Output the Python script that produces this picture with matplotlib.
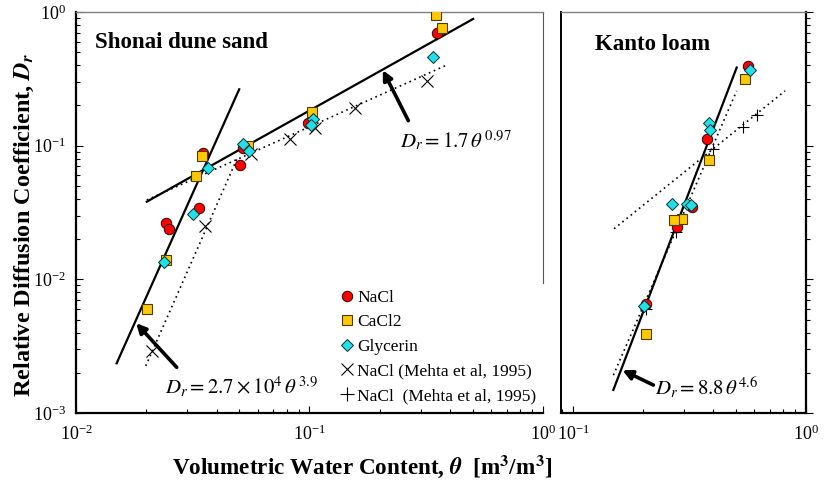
import matplotlib
matplotlib.use("Agg")
import matplotlib.pyplot as plt
import numpy as np

plt.rcParams['font.family'] = ['Liberation Serif', 'DejaVu Serif']
plt.rcParams['mathtext.fontset'] = 'stix'

# Data - Shonai dune sand (theta, Dr)
sand_nacl_t = [0.35, 0.099, 0.0517, 0.0504, 0.0351, 0.0337, 0.0244, 0.0249]
sand_nacl_d = [0.70, 0.148, 0.0955, 0.0716, 0.088, 0.034, 0.0263, 0.024]
sand_cacl_t = [0.348, 0.371, 0.102, 0.0543, 0.0348, 0.0326, 0.0244, 0.0202]
sand_cacl_d = [0.955, 0.759, 0.18, 0.099, 0.083, 0.0589, 0.01396, 0.00602]
sand_gly_t = [0.338, 0.1033, 0.1016, 0.0517, 0.0552, 0.0366, 0.0316, 0.0239]
sand_gly_d = [0.46, 0.157, 0.143, 0.103, 0.0917, 0.068, 0.0307, 0.0135]
sand_mehta_t = [0.317, 0.157, 0.106, 0.0826, 0.0562, 0.0358, 0.0212]
sand_mehta_d = [0.307, 0.19, 0.135, 0.112, 0.0865, 0.0252, 0.0029]

# Data - Kanto loam
loam_nacl_t = [0.561, 0.376, 0.323, 0.279, 0.205]
loam_nacl_d = [0.394, 0.112, 0.0346, 0.0248, 0.0065]
loam_cacl_t = [0.549, 0.383, 0.294, 0.27, 0.2065]
loam_cacl_d = [0.313, 0.0785, 0.0285, 0.0279, 0.0039]
loam_gly_t = [0.576, 0.385, 0.387, 0.265, 0.308, 0.321, 0.202]
loam_gly_d = [0.365, 0.147, 0.131, 0.0369, 0.0369, 0.036, 0.00637]
loam_mehta_t = [0.613, 0.534, 0.398, 0.277, 0.2065]
loam_mehta_d = [0.17, 0.139, 0.094, 0.0226, 0.006]

# Fitted lines as end points (theta0, Dr0, theta1, Dr1)
sand_fit_solid = [(0.0201, 0.0381, 0.502, 0.887), (0.01493, 0.002355, 0.05, 0.264)]
sand_fit_dotted = [(0.0201, 0.0392, 0.387, 0.401), (0.0199, 0.00225, 0.0489, 0.0795)]
loam_fit_solid = [(0.149, 0.00149, 0.504, 0.384)]
loam_fit_dotted = [(0.15, 0.0239, 0.813, 0.257), (0.149, 0.00192, 0.504, 0.257)]

red = '#FF0000'
gold = '#FFC800'
cyan = '#22E0E8'

fig = plt.figure(figsize=(8.25, 4.83), dpi=100)
ax1 = fig.add_axes([0.0921, 0.1449, 0.5661, 0.8303])
ax2 = fig.add_axes([0.680, 0.1449, 0.297, 0.8303])


def draw(ax, nt, nd, ct, cd, gt, gd, mt, md, mmark, solid, dotted):
    for t0, d0, t1, d1 in dotted:
        ax.plot([t0, t1], [d0, d1], color='k', lw=1.2, ls=(0, (1, 2.2)), zorder=2)
    for t0, d0, t1, d1 in solid:
        ax.plot([t0, t1], [d0, d1], color='k', lw=1.6, zorder=3)
    ax.plot(mt, md, ls='none', marker=mmark, ms=9, mew=0.8, color='k', zorder=4)
    h1, = ax.plot(nt, nd, ls='none', marker='o', ms=7.5, mfc=red, mec='#330000', mew=0.7, zorder=5)
    h2, = ax.plot(ct, cd, ls='none', marker='s', ms=7.2, mfc=gold, mec='#4a3c00', mew=0.8, zorder=6)
    h3, = ax.plot(gt, gd, ls='none', marker='D', ms=6.2, mfc=cyan, mec='#003333', mew=0.7, zorder=7)
    return h1, h2, h3


h1, h2, h3 = draw(ax1, sand_nacl_t, sand_nacl_d, sand_cacl_t, sand_cacl_d,
                  sand_gly_t, sand_gly_d, sand_mehta_t, sand_mehta_d, 'x',
                  sand_fit_solid, sand_fit_dotted)
draw(ax2, loam_nacl_t, loam_nacl_d, loam_cacl_t, loam_cacl_d,
     loam_gly_t, loam_gly_d, loam_mehta_t, loam_mehta_d, '+',
     loam_fit_solid, loam_fit_dotted)

for ax in (ax1, ax2):
    ax.set_xscale('log')
    ax.set_yscale('log')
    ax.set_ylim(1e-3, 1)
    ax.spines['top'].set_color('#808080')
    ax.spines['top'].set_linewidth(1.0)
    ax.spines['bottom'].set_linewidth(1.6)
    ax.tick_params(which='both', direction='in', labelsize=13, width=0.8)
    ax.tick_params(which='major', length=5)
    ax.tick_params(which='minor', length=3)


def lbl(p):
    return r'$\mathregular{10^{%d}}$' % p


ax1.set_xlim(1e-2, 1)
ax1.set_xticks([1e-2, 1e-1, 1])
ax1.set_xticklabels([lbl(-2), lbl(-1), lbl(0)])
ax1.set_yticks([1e-3, 1e-2, 1e-1, 1])
ax1.set_yticklabels([lbl(-3), lbl(-2), lbl(-1), lbl(0)])
ax1.spines['left'].set_linewidth(1.6)
ax1.spines['right'].set_color('#555555')
ax1.spines['right'].set_bounds(0.0094, 1)
ax1.tick_params(axis='y', which='both', right=False)

ax2.set_xlim(0.0888, 1)
ax2.set_xticks([1e-1, 1])
ax2.set_xticklabels([lbl(-1), lbl(0)])
ax2.yaxis.tick_right()
ax2.tick_params(axis='y', which='both', direction='out', labelright=False)
ax2.spines['left'].set_linewidth(1.4)
ax2.spines['right'].set_linewidth(1.6)
for ax in (ax1, ax2):
    ax.tick_params(axis='x', which='both', pad=8)
ax1.tick_params(axis='y', pad=7)

# Panel titles
ax1.text(0.041, 0.923, 'Shonai dune sand', transform=ax1.transAxes, fontsize=16.5,
         fontweight='bold', va='center', ha='left')
ax2.text(0.139, 0.92, 'Kanto loam', transform=ax2.transAxes, fontsize=16.5,
         fontweight='bold', va='center', ha='left')

# Annotations
arrow = dict(arrowstyle='-|>', lw=2.6, color='k', mutation_scale=14, shrinkA=0, shrinkB=0)
ax1.annotate('', xy=(0.206, 1.7 * 0.206 ** 0.97), xycoords='data',
             xytext=(0.7116, 0.729), textcoords='axes fraction', arrowprops=arrow)
ax1.text(0.694, 0.677, r'$D_r = 1.7\,\theta^{\,0.97}$', transform=ax1.transAxes,
         fontsize=15, va='center', ha='left')
ax1.annotate('', xy=(0.0181, 0.0047), xycoords='data',
             xytext=(0.2156, 0.114), textcoords='axes fraction', arrowprops=arrow)
ax1.text(0.1906, 0.0656, r'$D_r = 2.7\times10^{4}\,\theta^{\,3.9}$', transform=ax1.transAxes,
         fontsize=15, va='center', ha='left')
ax2.annotate('', xy=(0.163, 8.8 * 0.163 ** 4.6), xycoords='data',
             xytext=(0.377, 0.0697), textcoords='axes fraction', arrowprops=arrow)
ax2.text(0.384, 0.062, r'$D_r = 8.8\,\theta^{4.6}$', transform=ax2.transAxes,
         fontsize=15, va='center', ha='left')

# Legend
hx, = ax1.plot([], [], ls='none', marker='x', ms=9, mew=0.8, color='k')
hp, = ax1.plot([], [], ls='none', marker='+', ms=10, mew=0.8, color='k')
ax1.legend([h1, h2, h3, hx, hp],
           ['NaCl', 'CaCl2', 'Glycerin', 'NaCl (Mehta et al, 1995)', 'NaCl  (Mehta et al, 1995)'],
           loc='upper left', bbox_to_anchor=(0.413, 0.400), bbox_transform=fig.transFigure,
           frameon=False, fontsize=12.5, handlelength=0.7, handletextpad=0.25,
           labelspacing=0.48, borderpad=0, borderaxespad=0)

fig.text(0.030, 0.535, r'Relative Diffusion Coefficient, $\mathbfit{D_r}$', rotation=90,
         fontsize=17.5, fontweight='bold', ha='center', va='center')
fig.text(0.439, 0.033, r'Volumetric Water Content, $\boldsymbol{\theta}$  [m$^\mathbf{3}$/m$^\mathbf{3}$]',
         fontsize=16.7, fontweight='bold', ha='center', va='center')

fig.savefig('out.png', dpi=100)
